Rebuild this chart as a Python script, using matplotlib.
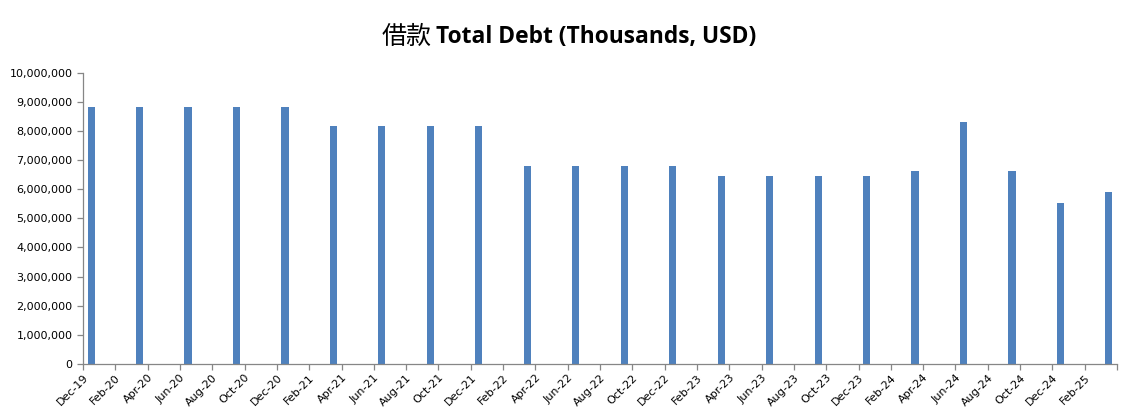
import matplotlib
matplotlib.use("Agg")
import matplotlib.pyplot as plt
from matplotlib.ticker import FuncFormatter

# quarterly debt (thousands USD), Dec-19 .. Mar-25
quarters = ["Dec-19", "Mar-20", "Jun-20", "Sep-20", "Dec-20",
            "Mar-21", "Jun-21", "Sep-21", "Dec-21",
            "Mar-22", "Jun-22", "Sep-22", "Dec-22",
            "Mar-23", "Jun-23", "Sep-23", "Dec-23",
            "Mar-24", "Jun-24", "Sep-24", "Dec-24", "Mar-25"]
debt = [8810000, 8810000, 8810000, 8810000, 8810000,
        8170000, 8170000, 8170000, 8170000,
        6800000, 6800000, 6800000, 6800000,
        6450000, 6450000, 6450000, 6450000,
        6630000, 8310000, 6630000, 5530000, 5900000]

# month axis labels (every 2 months, starting Dec-19)
tick_labels = ["Dec-19", "Feb-20", "Apr-20", "Jun-20", "Aug-20", "Oct-20",
               "Dec-20", "Feb-21", "Apr-21", "Jun-21", "Aug-21", "Oct-21",
               "Dec-21", "Feb-22", "Apr-22", "Jun-22", "Aug-22", "Oct-22",
               "Dec-22", "Feb-23", "Apr-23", "Jun-23", "Aug-23", "Oct-23",
               "Dec-23", "Feb-24", "Apr-24", "Jun-24", "Aug-24", "Oct-24",
               "Dec-24", "Feb-25", ""]

# month slot index for each quarter (0 = Dec-19), bar sits in middle of slot
x = [3 * i + 0.5 for i in range(len(quarters))]

fig = plt.figure(figsize=(11.31, 4.19), dpi=100)
ax = fig.add_axes([83 / 1131, 1 - 364 / 419, (1117 - 83) / 1131, (364 - 72.7) / 419])

ax.bar(x, debt, width=0.44, color="#4F81BD")

ax.set_xlim(0, 64)
ax.set_ylim(0, 10000000)
ax.set_yticks(range(0, 10000001, 1000000))
ax.yaxis.set_major_formatter(FuncFormatter(lambda v, _: f"{int(v):,}"))
ax.set_xticks(range(0, 65, 2))
ax.set_xticklabels(tick_labels, rotation=45, ha="right", rotation_mode="anchor")

for s in ["top", "right"]:
    ax.spines[s].set_visible(False)
for s in ["left", "bottom"]:
    ax.spines[s].set_color("#868686")
    ax.spines[s].set_linewidth(0.9)
ax.tick_params(axis="both", colors="#868686", labelcolor="black", labelsize=8, length=4, width=0.9)
ax.tick_params(axis="x", pad=2)

# title: CJK part regular, English part bold
ty = 1 - 37 / 419
fig.text(432 / 1131, ty, "借款", ha="right", va="center", fontsize=18,
         family=["Noto Sans CJK SC", "DejaVu Sans"])
fig.text(436 / 1131, ty, "Total Debt (Thousands, USD)", ha="left", va="center",
         fontsize=16.4, fontweight="bold", family=["Open Sans", "DejaVu Sans"])

fig.savefig("out.png", dpi=100)
